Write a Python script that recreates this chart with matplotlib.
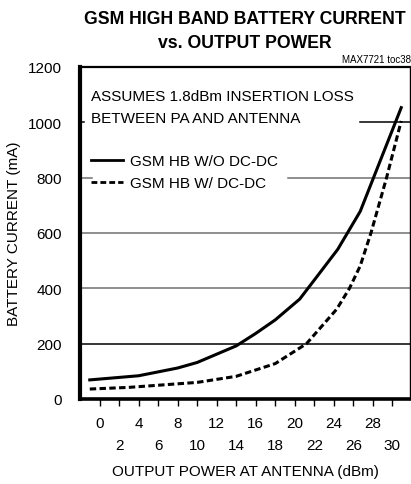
import matplotlib
matplotlib.use("Agg")
import matplotlib.pyplot as plt
from matplotlib.lines import Line2D

plt.rcParams["font.family"] = ["Liberation Sans", "DejaVu Sans"]

# Battery current vs. output power at the antenna
power_no_dcdc = [-1, 4, 8, 10, 14, 16, 18, 20.5, 22, 24.4, 26.7, 30.9]
current_no_dcdc = [69, 84, 112, 132, 192, 237, 286, 361, 430, 541, 678, 1053]

power_dcdc = [-1, 3, 10, 14, 18, 21.2, 24.3, 25.6, 26.7, 27.8, 29.4, 30.9]
current_dcdc = [36, 42, 60, 82, 128, 200, 325, 400, 481, 600, 800, 1005]

x_ticks = list(range(0, 31, 2))
y_ticks = [0, 200, 400, 600, 800, 1000, 1200]
series_labels = ["GSM HB W/O DC-DC", "GSM HB W/ DC-DC"]

fig = plt.figure(figsize=(4.11, 4.85), dpi=100)
ax = fig.add_axes([80 / 411, 85 / 485, 330 / 411, 332 / 485])

ax.set_xlim(-2, 31.8)
ax.set_ylim(0, 1200)

# horizontal grid, broken where the note and legend sit
grid = [
    (200, "black", 0.0, 1.0),
    (400, "#707070", 0.0, 1.0),
    (600, "#707070", 0.0, 1.0),
    (800, "#707070", 0.0, 0.036),
    (800, "#707070", 0.63, 1.0),
    (1000, "black", 0.0, 0.012),
    (1000, "black", 0.848, 1.0),
]
for yv, col, x0, x1 in grid:
    ax.axhline(yv, xmin=x0, xmax=x1, color=col, lw=1.1, zorder=1)

ax.plot(power_no_dcdc, current_no_dcdc, color="black", lw=2.2,
        solid_joinstyle="miter", zorder=3)
ax.plot(power_dcdc, current_dcdc, color="black", lw=2.2,
        linestyle=(0, (2.1, 1.1)), zorder=3)

for side, lw in (("left", 3.0), ("bottom", 2.6), ("top", 1.6), ("right", 1.0)):
    ax.spines[side].set_linewidth(lw)

ax.set_yticks(y_ticks)
ax.set_yticklabels([str(v) for v in y_ticks])
ax.tick_params(axis="y", length=0, pad=13, labelsize=11)

ax.set_xticks(x_ticks)
ax.set_xticklabels([str(v) if v % 4 == 0 else "\n" + str(v) for v in x_ticks])
ax.tick_params(axis="x", direction="out", length=5, width=1.0, pad=7,
               labelsize=11)
for lbl in ax.get_xticklabels():
    lbl.set_linespacing(1.75)

ax.set_xlabel("OUTPUT POWER AT ANTENNA (dBm)", fontsize=11)
ax.xaxis.set_label_coords(0.5, -0.195)
ax.set_ylabel("BATTERY CURRENT (mA)", fontsize=11)
ax.yaxis.set_label_coords(-0.18, 0.5)

ax.text(0.033, 0.935, "ASSUMES 1.8dBm INSERTION LOSS\nBETWEEN PA AND ANTENNA",
        transform=ax.transAxes, fontsize=11, va="top", ha="left",
        linespacing=1.75)

handles = [
    Line2D([], [], color="black", lw=2.0),
    Line2D([], [], color="black", lw=2.0, linestyle=(0, (2.1, 1.1))),
]
ax.legend(handles, series_labels, loc="upper left",
          bbox_to_anchor=(0.015, 0.755), frameon=False, fontsize=11,
          handlelength=2.1, handletextpad=0.45, labelspacing=0.5,
          borderaxespad=0)

fig.text(245 / 411, 1 - 19 / 485, "GSM HIGH BAND BATTERY CURRENT",
         fontweight="bold", fontsize=12.7, ha="center", va="center")
fig.text(245 / 411, 1 - 43 / 485, "vs. OUTPUT POWER",
         fontweight="bold", fontsize=12.7, ha="center", va="center")
fig.text(1.0, 1 - 60 / 485, "MAX7721 toc38", fontsize=7, ha="right",
         va="center")

fig.savefig("out.png", dpi=100)
